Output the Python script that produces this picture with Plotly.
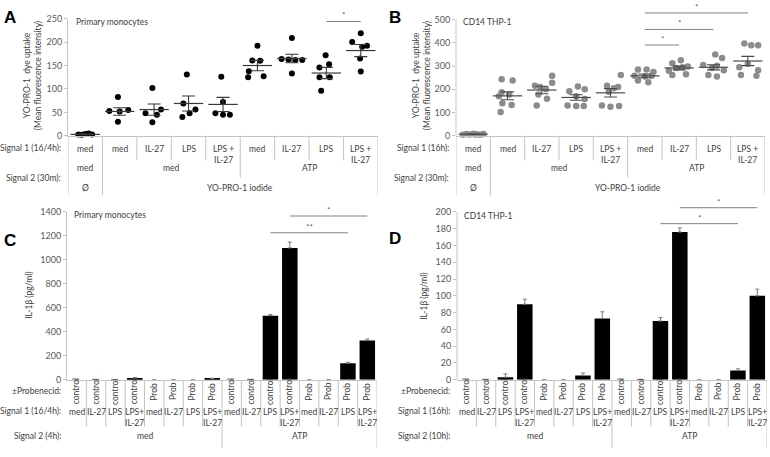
import plotly.graph_objects as go

W, H = 770, 457


def px(x):
    return x / W


def py(y):
    return 1 - y / H


# ---------------- data ----------------
# Panel A: primary monocytes, YO-PRO-1 uptake
a_points = [[3, 2, 4, 5, 3],
            [83, 53, 52, 55, 30],
            [102, 48, 56, 29, 45],
            [131, 69, 56, 40, 48],
            [126, 72, 48, 45, 45],
            [192, 161, 160, 138, 125, 127],
            [209, 164, 163, 162, 162, 133],
            [172, 153, 146, 125, 125, 96],
            [219, 200, 190, 192, 165, 137]]
a_means = [3, 52, 56, 69, 67, 150, 165, 134, 182]
a_sem = [1, 8, 12, 16, 15, 11, 9, 12, 13]

# Panel B: CD14 THP-1, YO-PRO-1 uptake
b_points = [[5, 8, 6, 9, 7, 5, 8, 6],
            [243, 238, 188, 178, 170, 140, 133, 102],
            [258, 228, 215, 210, 200, 178, 160, 130],
            [212, 200, 192, 170, 158, 130, 128, 128],
            [262, 215, 205, 210, 190, 130, 125, 128],
            [285, 285, 275, 258, 255, 258, 238, 230],
            [325, 312, 298, 295, 292, 280, 265, 262],
            [350, 335, 305, 302, 292, 282, 262, 255],
            [397, 390, 390, 310, 295, 282, 262, 258]]
b_means = [7, 172, 197, 165, 185, 258, 292, 295, 322]
b_sem = [1, 17, 16, 12, 18, 8, 8, 11, 20]

ab_signal1 = ["med", "med", "IL-27", "LPS", "LPS +<br>IL-27",
              "med", "IL-27", "LPS", "LPS +<br>IL-27"]
ab_signal2_top = ["med", "med", "ATP"]
ab_signal2_top_span = [(0, 0), (1, 4), (5, 8)]
ab_signal2_bot = ["Ø", "YO-PRO-1 iodide"]
ab_signal2_bot_span = [(0, 0), (1, 8)]

# Panel C: primary monocytes IL-1b
c_values = [0, 0, 0, 15, 0, 0, 0, 10, 0, 0, 535, 1100, 0, 0, 138, 328]
c_err = [None, None, None, 3, None, None, None, 3,
         None, None, 10, 48, None, None, 8, 12]
# Panel D: CD14 THP-1 IL-1b
d_values = [0, 0, 3, 90, 0, 0, 5, 73, 0, 0, 70, 176, 0, 0, 11, 100]
d_err = [None, None, 4, 6, None, None, 3, 8,
         None, None, 4, 5, None, None, 2, 8]

cd_prob = ["control"] * 4 + ["Prob"] * 4 + ["control"] * 4 + ["Prob"] * 4
cd_signal1 = ["med", "IL-27", "LPS", "LPS+<br>IL-27"] * 4
cd_signal2 = ["med", "ATP"]
cd_signal2_span = [(0, 7), (8, 15)]

# significance brackets: (from, to, y)
a_sig = [(7, 8, 244, "*")]
b_sig = [(5, 8, 529, "*"), (5, 7, 458, "*"), (5, 6, 391, "*")]
c_sig = [(11, 15, 1366, "*"), (10, 14, 1226, "**")]
d_sig = [(11, 15, 205, "*"), (10, 14, 186, "*")]

# jitter offsets for the dot plots (layout of dots inside each column)
a_jitter = [[-0.2, -0.1, 0, 0.1, 0.2],
            [-0.05, -0.3, 0, 0.25, -0.05],
            [-0.05, -0.25, 0.2, -0.05, 0.08],
            [-0.05, -0.15, 0.2, -0.18, 0.03],
            [-0.05, 0, -0.22, 0, 0.2],
            [0, -0.15, 0.08, -0.25, -0.27, 0.18],
            [0, -0.3, -0.1, 0.1, 0.3, 0],
            [-0.02, 0.08, -0.2, -0.2, 0.1, -0.15],
            [0, -0.25, 0.04, 0.18, -0.02, 0]]
b_jitter = [[-0.3, -0.2, -0.1, 0, 0.1, 0.2, 0.3, 0.05],
            [-0.17, 0.15, -0.17, 0.05, -0.25, -0.15, 0.12, -0.2],
            [0.3, 0.3, -0.2, -0.05, 0.12, -0.1, 0.15, -0.15],
            [0.05, 0.25, -0.2, 0, 0.25, -0.25, 0, 0.22],
            [0.3, -0.1, 0.1, 0.22, -0.05, -0.25, 0, 0.25],
            [-0.2, 0.05, 0.25, -0.3, 0, 0.2, -0.2, 0.1],
            [0.05, -0.2, 0.25, 0.1, -0.08, -0.3, 0.2, -0.2],
            [0.05, 0.25, -0.3, 0.1, -0.05, 0.3, -0.15, 0.1],
            [-0.1, 0.1, 0.3, 0, -0.25, 0.3, -0.2, 0.25]]

# ---------------- styles ----------------
FONT = "Lato"
TXT = "#404040"
TICK = "#595959"
GRID = "#c4c4c4"
SIGC = "#808080"
FS = 8.5

fig = go.Figure()


def dots(points, jitter, color, xa, ya, size):
    xs, ys = [], []
    for g, (pts, jit) in enumerate(zip(points, jitter)):
        for v, j in zip(pts, jit):
            xs.append(g + j)
            ys.append(v)
    fig.add_trace(go.Scatter(x=xs, y=ys, mode="markers", xaxis=xa, yaxis=ya,
                             marker=dict(color=color, size=size),
                             cliponaxis=False, showlegend=False, hoverinfo="y"))


def meanbars(means, sem, color, xa, ya):
    fig.add_trace(go.Scatter(x=list(range(len(means))), y=means, mode="markers",
                             xaxis=xa, yaxis=ya, cliponaxis=False,
                             marker=dict(symbol="line-ew", size=21,
                                         line=dict(color=color, width=1.2)),
                             error_y=dict(type="data", array=sem, visible=True,
                                          color=color, thickness=1.1, width=6.5),
                             showlegend=False, hoverinfo="y"))


dots(a_points, a_jitter, "#000000", "x", "y", 6)
meanbars(a_means, a_sem, "#3a3a3a", "x", "y")
dots(b_points, b_jitter, "#8c8c8c", "x2", "y2", 6.5)
meanbars(b_means, b_sem, "#4a4a4a", "x2", "y2")

for vals, err, xa, ya in [(c_values, c_err, "x3", "y3"), (d_values, d_err, "x4", "y4")]:
    fig.add_trace(go.Bar(x=list(range(len(vals))), y=vals, xaxis=xa, yaxis=ya,
                         marker=dict(color="#000000", line=dict(width=0)),
                         width=0.8,
                         error_y=dict(type="data", symmetric=False, array=err,
                                      arrayminus=[0] * len(err), visible=True,
                                      color="#7a7a7a", thickness=1, width=2),
                         showlegend=False, hoverinfo="y"))

axfont = dict(family=FONT, size=9, color=TICK)


def xaxis(dom, n):
    return dict(domain=dom, range=[-0.5, n - 0.5], showline=True, linecolor=GRID,
                linewidth=1, showticklabels=False, ticks="", showgrid=False,
                zeroline=False, fixedrange=True)


def yaxis(dom, rng, dtick, anchor, showline=True):
    return dict(domain=dom, range=rng, dtick=dtick, tick0=0, showline=showline,
                linecolor=GRID, linewidth=1, ticks="outside", ticklen=3,
                tickcolor=GRID, tickfont=axfont, showgrid=False, zeroline=False,
                anchor=anchor, fixedrange=True)


fig.update_layout(
    width=W, height=H, margin=dict(l=0, r=0, t=0, b=0),
    paper_bgcolor="white", plot_bgcolor="white",
    xaxis=dict(xaxis([px(68), px(378)], 9), anchor="y"),
    yaxis=yaxis([py(133), py(13)], [0, 250], 50, "x"),
    xaxis2=dict(xaxis([px(456), px(765)], 9), anchor="y2"),
    yaxis2=dict(yaxis([py(133), py(133 - 540 * 119 / 500)], [0, 540], 100, "x2", False),
                tickvals=[0, 100, 200, 300, 400, 500]),
    xaxis3=dict(xaxis([px(67), px(377)], 16), anchor="y3"),
    yaxis3=yaxis([py(383), py(211)], [0, 1400], 200, "x3"),
    xaxis4=dict(xaxis([px(457), px(767)], 16), anchor="y4"),
    yaxis4=dict(yaxis([py(383), py(383 - 210 * 172 / 200)], [0, 210], 20, "x4", False),
                tickvals=list(range(0, 201, 20))),
    bargap=0.2,
)

shapes = []
anns = []


def line(x0, x1, y0, y1, xref, yref, color=GRID, width=1):
    shapes.append(dict(type="line", x0=x0, x1=x1, y0=y0, y1=y1, xref=xref,
                       yref=yref, line=dict(color=color, width=width)))


def text(x, y, t, xref="paper", yref="paper", xanchor="center", yanchor="middle",
         size=FS, color=TXT, angle=0, family=FONT, yshift=0):
    anns.append(dict(x=x, y=y, text=t, xref=xref, yref=yref, xanchor=xanchor,
                     yanchor=yanchor, showarrow=False, textangle=angle, yshift=yshift,
                     font=dict(family=family, size=size, color=color)))


# y-axis lines drawn only up to the last tick for B and D
line(px(456), px(456), 0, 500, "paper", "y2")
line(px(457), px(457), 0, 200, "paper", "y4")

# panel letters
for lab, x, y in [("A", 10, 12), ("B", 395, 12), ("C", 10, 240), ("D", 395, 238)]:
    text(px(x), py(y), "<b>%s</b>" % lab, size=17, color="#000000",
         family="Liberation Sans")

# inner titles
text(px(74), py(16), "Primary monocytes", xanchor="left")
text(px(461), py(16), "CD14 THP-1", xanchor="left")
text(px(72), py(214), "Primary monocytes", xanchor="left")
text(px(462), py(215), "CD14 THP-1", xanchor="left")

# y titles
text(px(32), py(72), "YO-PRO-1  dye uptake<br>(Mean fluorescence intensity)", angle=-90)
text(px(421), py(72), "YO-PRO-1  dye uptake<br>(Mean fluorescence intensity)", angle=-90)
text(px(29), py(297), "IL-1β (pg/ml)", angle=-90)
text(px(424), py(297), "IL-1β (pg/ml)", angle=-90)

# significance brackets
for sigs, xr, yr in [(a_sig, "x", "y"), (b_sig, "x2", "y2"), (c_sig, "x3", "y3"), (d_sig, "x4", "y4")]:
    for x0, x1, yv, star in sigs:
        line(x0, x1, yv, yv, xr, yr, color=SIGC, width=1)
        text((x0 + x1) / 2, yv, star, xref=xr, yref=yr, yanchor="bottom",
             size=8, color="#606060", yshift=-1)

# ---- tables for A and B ----
for xr, s1label, xleft in [("x", "Signal 1 (16/4h):", 63), ("x2", "Signal 1 (16h):", 451)]:
    text(px(xleft), py(145), s1label, xanchor="right")
    text(px(xleft), py(176), "Signal 2 (30m):", xanchor="right")
    for i, lab in enumerate(ab_signal1):
        text(i, py(139), lab, xref=xr, yanchor="top")
    for lab, (s0, s1) in zip(ab_signal2_top, ab_signal2_top_span):
        text((s0 + s1) / 2, py(166), lab, xref=xr)
    for lab, (s0, s1) in zip(ab_signal2_bot, ab_signal2_bot_span):
        text((s0 + s1) / 2, py(187), lab, xref=xr)
    for xb in [-0.5, 0.5, 8.5]:
        line(xb, xb, py(133), py(194), xr, "paper")
    for xb in [1.5, 2.5, 3.5, 5.5, 6.5, 7.5]:
        line(xb, xb, py(133), py(158), xr, "paper")
    line(4.5, 4.5, py(133), py(176), xr, "paper")

# ---- tables for C and D ----
for xr, s1label, s2label, xleft in [("x3", "Signal 1 (16/4h):", "Signal 2 (4h):", 63),
                                     ("x4", "Signal 1 (16h):", "Signal 2 (10h):", 452)]:
    text(px(xleft), py(394), "±Probenecid:", xanchor="right")
    text(px(xleft), py(415), s1label, xanchor="right")
    text(px(xleft), py(441), s2label, xanchor="right")
    for i, lab in enumerate(cd_prob):
        text(i, py(395), lab, xref=xr, angle=-90)
    for i, lab in enumerate(cd_signal1):
        text(i, py(409), lab, xref=xr, yanchor="top")
    for lab, (s0, s1) in zip(cd_signal2, cd_signal2_span):
        text((s0 + s1) / 2, py(441), lab, xref=xr)
    for k in range(15):
        xb = k + 0.5
        if xb == 7.5:
            continue
        line(xb, xb, py(384), py(431), xr, "paper")
    for xb in [7.5, 15.5]:
        line(xb, xb, py(384), py(453), xr, "paper")

fig.update_layout(shapes=shapes, annotations=anns)
fig.write_html("out.html",
               config={"displayModeBar": False},
               post_script="document.body.style.margin='0px';"
                           "document.body.style.overflow='hidden';")
